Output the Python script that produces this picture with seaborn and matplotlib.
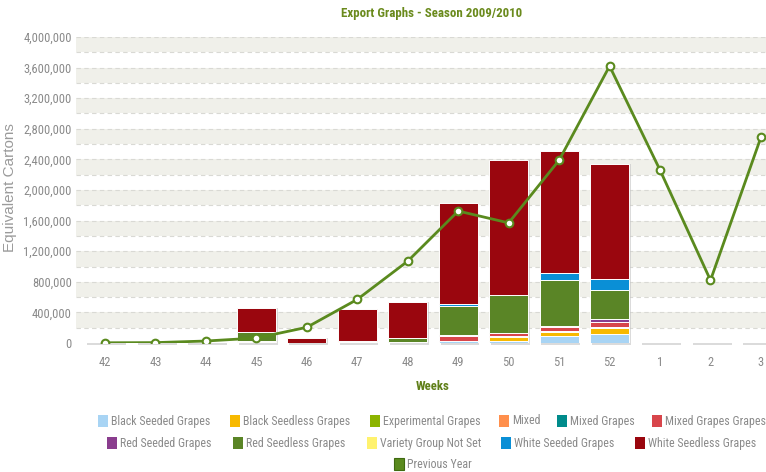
import numpy as np
import pandas as pd
import matplotlib
matplotlib.use("Agg")
import matplotlib.pyplot as plt
import seaborn as sns
from matplotlib.patches import Rectangle

weeks = ['42', '43', '44', '45', '46', '47', '48', '49', '50', '51', '52', '1', '2', '3']

black_seeded = [0, 0, 0, 0, 0, 0, 0, 30000, 30000, 85000, 120000, 0, 0, 0]
black_seedless = [0, 0, 0, 15000, 0, 0, 0, 0, 45000, 60000, 72000, 0, 0, 0]
experimental = [0, 0, 0, 0, 0, 0, 0, 0, 0, 0, 0, 0, 0, 0]
mixed = [0, 0, 0, 10000, 0, 0, 0, 0, 10000, 15000, 23000, 0, 0, 0]
mixed_grapes = [0, 0, 0, 0, 0, 0, 0, 0, 10000, 0, 0, 0, 0, 0]
mixed_grapes_grapes = [0, 0, 0, 0, 0, 0, 10000, 60000, 30000, 45000, 55000, 0, 0, 0]
red_seeded = [0, 0, 0, 0, 0, 0, 0, 15000, 10000, 20000, 40000, 0, 0, 0]
red_seedless = [0, 0, 0, 123000, 0, 15000, 60000, 382000, 491000, 597000, 383000, 0, 0, 0]
variety_not_set = [0, 0, 0, 0, 0, 5000, 0, 0, 5000, 0, 0, 0, 0, 0]
white_seeded = [0, 0, 0, 0, 0, 0, 0, 25000, 0, 89000, 139000, 0, 0, 0]
white_seedless = [0, 0, 0, 305000, 70000, 430000, 462000, 1322000, 1764000, 1602000, 1503000, 0, 0, 0]

previous_year = [3000, 5000, 26000, 65000, 205000, 570000, 1070000, 1725000, 1570000,
                 2390000, 3620000, 2260000, 820000, 2690000]

series_names = ['Black Seeded Grapes', 'Black Seedless Grapes', 'Experimental Grapes', 'Mixed',
                'Mixed Grapes', 'Mixed Grapes Grapes', 'Red Seeded Grapes', 'Red Seedless Grapes',
                'Variety Group Not Set', 'White Seeded Grapes', 'White Seedless Grapes']
series_colors = ['#a8d4f4', '#f7b900', '#8cb400', '#ff8f4c', '#008b8b', '#d8454b',
                 '#8a3d8e', '#5a8526', '#fff26e', '#0a8fd6', '#9a060e']
line_color = '#5a8a1e'

df = pd.DataFrame({'week': weeks}).assign(**dict(zip(series_names, [
    black_seeded, black_seedless, experimental, mixed, mixed_grapes, mixed_grapes_grapes,
    red_seeded, red_seedless, variety_not_set, white_seeded, white_seedless])))
df['Previous Year'] = previous_year
df['pos'] = np.arange(len(weeks))

sns.set_style("white")
plt.rcParams['font.family'] = ['Roboto Condensed', 'DejaVu Sans']

W, H = 766, 472
fig = plt.figure(figsize=(W / 100, H / 100), dpi=100)
ax = fig.add_axes([76 / W, (H - 343) / H, (W - 76) / W, (343 - 37) / H])

# alternating bands + dashed grid
for k in range(10):
    ax.axhspan(k * 400000 + 200000, (k + 1) * 400000, color='#f0f0ea', lw=0, zorder=0)
for v in range(200000, 4000001, 200000):
    ax.axhline(v, color='#d9d9d4', lw=0.8, ls=(0, (4, 3)), zorder=0.5)

x = df['pos'].values
bw = 0.77
totals = df[series_names].sum(axis=1).values
# bar shadows
ax.bar(x + 0.035, totals + 25000, bottom=-25000, width=bw, color='#c4c4c4', alpha=0.6,
       lw=0, zorder=1, clip_on=False)
bottom = np.zeros(len(weeks))
for name, col in zip(series_names, series_colors):
    vals = df[name].values
    ax.bar(x, vals, bottom=bottom, width=bw, color=col, edgecolor='white', lw=0.7, zorder=2)
    bottom += vals

sns.lineplot(data=df, x='pos', y='Previous Year', ax=ax, color=line_color, lw=2, zorder=4,
             marker='o', markersize=5.5, markerfacecolor='white', markeredgecolor=line_color,
             markeredgewidth=1.5)

ax.set_xlim(-0.575, 13.10)
ax.set_ylim(0, 4000000)
ax.set_xticks(x)
ax.set_xticklabels(weeks)
yt = np.arange(0, 4000001, 400000)
ax.set_yticks(yt)
ax.set_yticklabels([f'{v:,}' for v in yt])
ax.tick_params(axis='both', length=0, labelsize=9, labelcolor='#8a8a8a')
ax.tick_params(axis='x', pad=9)
ax.tick_params(axis='y', pad=3)
ax.set_xlabel('')
ax.set_ylabel('')
sns.despine(ax=ax, left=True, bottom=True)

def fx(px):
    return px / W

def fy(py):
    return 1 - py / H

fig.text(fx(432), fy(13), 'Export Graphs - Season 2009/2010', ha='center', va='center',
         fontsize=9.3, fontweight='bold', color='#6a8a1c')
fig.text(fx(433), fy(386), 'Weeks', ha='center', va='center', fontsize=9.3,
         fontweight='bold', color='#5f7f18')
fig.text(fx(10), fy(188), 'Equivalent Cartons', ha='center', va='center', rotation=90,
         fontsize=11, color='#9a9a9a', family=['Liberation Sans', 'DejaVu Sans'])

# legend laid out like the original
legend_rows = [
    (421, [0, 1, 2, 3, 4, 5], [98, 230, 370, 499, 557, 652]),
    (443, [6, 7, 8, 9, 10], [107, 233, 367, 501, 635]),
    (464, ['Previous Year'], [394]),
]
for y_px, items, xs in legend_rows:
    for it, x_px in zip(items, xs):
        if it == 'Previous Year':
            label, col, ec = it, line_color, '#3f6a10'
        else:
            label, col, ec = series_names[it], series_colors[it], 'none'
        fig.add_artist(Rectangle((fx(x_px), fy(y_px + 6)), 10 / W, 12 / H, transform=fig.transFigure,
                                 facecolor=col, edgecolor=ec, lw=0.8))
        fig.text(fx(x_px + 13), fy(y_px), label, ha='left', va='center', fontsize=8.6,
                 color='#8a8a8a')

fig.savefig('out.png', dpi=100)
